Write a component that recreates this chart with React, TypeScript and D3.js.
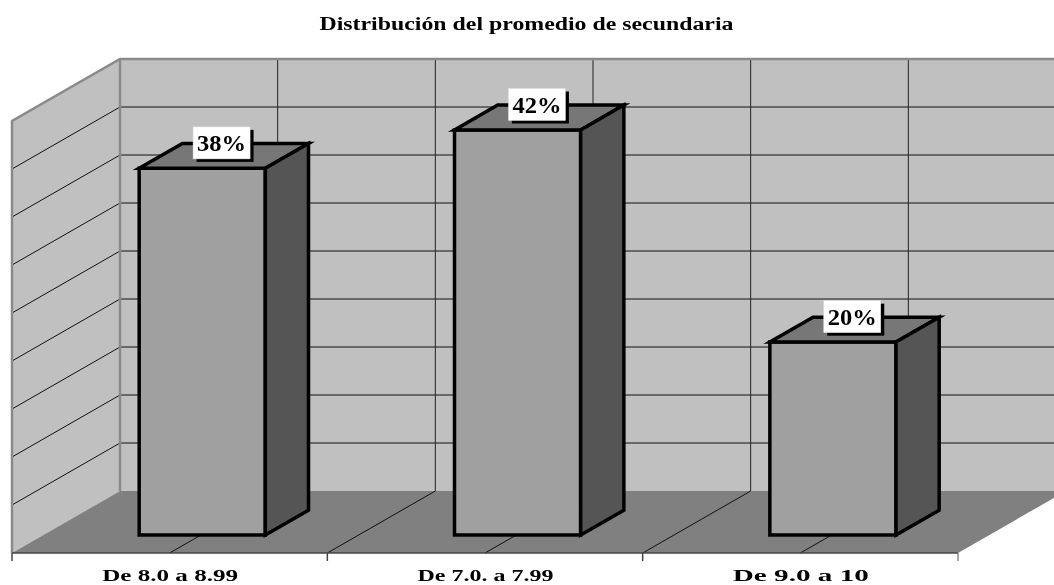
import React from "react";
import * as d3 from "d3";

const title = "Distribución del promedio de secundaria";
const categories = ["De 8.0 a 8.99", "De 7.0. a 7.99", "De 9.0 a 10"];
const values = [38.2, 42.2, 20.1];
const dataLabels = ["38%", "42%", "20%"];
const yTicks = [0, 5, 10, 15, 20, 25, 30, 35, 40, 45];
const halfSteps = [0, 0.5, 1, 1.5, 2, 2.5, 3];
const categoryEdges = [0, 1, 2, 3];

const W = 1054;
const H = 585;
const DX = 108;
const DY = -62;
const BAR_W = 0.4;
const BAR_SHIFT = 0.004;
const Z0 = 0.29;
const Z1 = 0.69;

const x = d3.scaleLinear().domain([0, 3]).range([12, 958]);
const y = d3.scaleLinear().domain([0, 45]).range([553, 121]);
const P = (cx: number, v: number, z: number): [number, number] => [x(cx) + z * DX, y(v) + z * DY];
const line = d3.line<[number, number]>();
const poly = (pts: [number, number][]) => line(pts) + "Z";

const FONT = "'Liberation Serif', serif";
const LINE = "#111";
const WALL = "#c0c0c0";
const EDGE = "#8a8a8a";

export default function App() {
  return (
    <svg width={W} height={H} viewBox={`0 0 ${W} ${H}`} style={{ position: "absolute", left: 0, top: 0, background: "#fff" }}>
      <defs>
        <filter id="soft" x="0" y="0" width="100%" height="100%">
          <feGaussianBlur stdDeviation={0.45} />
        </filter>
      </defs>
      <g filter="url(#soft)">
        <rect width={W} height={H} fill="#fff" />
        <path d={poly([P(0, 0, 1), P(3, 0, 1), P(3, 45, 1), P(0, 45, 1)])} fill={WALL} />
        <path d={poly([P(0, 0, 0), P(0, 0, 1), P(0, 45, 1), P(0, 45, 0)])} fill={WALL} />
        <path d={poly([P(0, 0, 0), P(3, 0, 0), P(3, 0, 1), P(0, 0, 1)])} fill="#808080" />

        {yTicks.slice(1, -1).map((t) => (
          <path key={t} d={line([P(0, t, 0), P(0, t, 1), P(3, t, 1)]) || ""} fill="none" stroke={LINE} strokeWidth={1} />
        ))}
        {halfSteps.slice(1, -1).map((c) => (
          <g key={c}>
            <path d={line([P(c, 0, 1), P(c, 45, 1)]) || ""} stroke="#222" strokeWidth={1} />
            <path d={line([P(c, 0, 0), P(c, 0, 1)]) || ""} stroke={LINE} strokeWidth={1} />
          </g>
        ))}
        <path d={line([P(0, 0, 0), P(0, 45, 0), P(0, 45, 1), P(3, 45, 1)]) || ""} fill="none" stroke={EDGE} strokeWidth={2.5} />
        <path d={line([P(0, 45, 1), P(0, 0, 1)]) || ""} fill="none" stroke={EDGE} strokeWidth={2.5} />

        <path d={line([P(0, 0, 0), P(3, 0, 0)]) || ""} stroke="#444" strokeWidth={1.5} />
        {categoryEdges.map((c) => (
          <path key={c} d={line([P(c, 0, 0), [x(c), 561]]) || ""} stroke={c === 3 ? EDGE : "#444"} strokeWidth={1.5} />
        ))}

        {categories.map((c, i) => {
          const a = i + 0.5 - BAR_W / 2 + BAR_SHIFT;
          const b = a + BAR_W;
          const v = values[i];
          const tc = P(i + 0.5, v, (Z0 + Z1) / 2);
          const lx = tc[0] - 1;
          const ly = tc[1] - 13;
          return (
            <g key={c}>
              <g stroke="#000" strokeWidth={3.5} strokeLinejoin="miter">
                <path d={poly([P(a, 0, Z0), P(b, 0, Z0), P(b, v, Z0), P(a, v, Z0)])} fill="#a0a0a0" />
                <path d={poly([P(a, v, Z0), P(b, v, Z0), P(b, v, Z1), P(a, v, Z1)])} fill="#777777" />
                <path d={poly([P(b, 0, Z0), P(b, 0, Z1), P(b, v, Z1), P(b, v, Z0)])} fill="#555555" />
              </g>
              <rect x={lx - 25} y={ly - 13} width={57} height={32} fill="#000" />
              <rect x={lx - 28.5} y={ly - 16} width={57} height={32} fill="#fff" stroke="#ddd" strokeWidth={0.5} />
              <text x={lx} y={ly + 8} textAnchor="middle" fontFamily={FONT} fontWeight={700} fontSize={23} textLength={49} lengthAdjust="spacingAndGlyphs">
                {dataLabels[i]}
              </text>
              <text x={x(i + 0.5) + 0.5} y={580.5} textAnchor="middle" fontFamily={FONT} fontWeight={700} fontSize={16.5} textLength={136} lengthAdjust="spacingAndGlyphs">
                {c}
              </text>
            </g>
          );
        })}

        <text x={526.5} y={29.5} textAnchor="middle" fontFamily={FONT} fontWeight={700} fontSize={18} textLength={414} lengthAdjust="spacingAndGlyphs">
          {title}
        </text>
      </g>
    </svg>
  );
}
